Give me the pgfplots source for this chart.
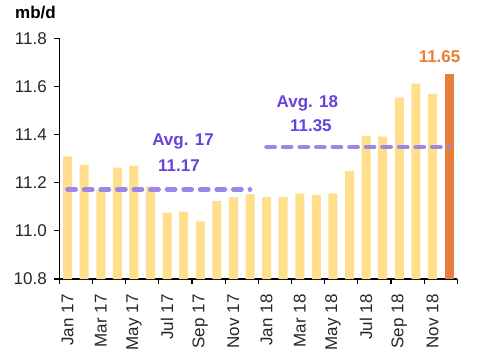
\documentclass[border=0pt]{standalone}
\usepackage{pgfplots}
\pgfplotsset{compat=1.18}
\usepackage{fontspec}
\setmainfont{Liberation Sans}
\definecolor{barY}{RGB}{255,222,140}
\definecolor{barO}{RGB}{232,125,62}
\definecolor{avgL}{RGB}{155,135,230}
\definecolor{avgT}{RGB}{105,65,225}
\definecolor{numO}{RGB}{237,125,49}
\begin{document}
\begin{tikzpicture}
\begin{axis}[
  scale only axis, width=398bp, height=240.7bp,
  xmin=-0.5, xmax=23.5, ymin=10.8, ymax=11.8,
  axis x line*=bottom, axis y line*=left,
  axis line style={-, line width=1.2bp, black},
  clip=false,
  font=\fontsize{17bp}{20bp}\selectfont,
  /pgf/number format/assume math mode=true,
  ytick={10.8,11,11.2,11.4,11.6,11.8},
  yticklabel style={/pgf/number format/fixed, /pgf/number format/fixed zerofill, /pgf/number format/precision=1, color=black!85, xshift=-4bp},
  tick align=outside,
  major tick length=5bp, minor tick length=5bp,
  tick style={line width=1.2bp, black},
  xtick={0,2,...,22},
  xticklabels={Jan 17,Mar 17,May 17,Jul 17,Sep 17,Nov 17,Jan 18,Mar 18,May 18,Jul 18,Sep 18,Nov 18},
  x tick style={draw=none},
  minor xtick={-0.5,1.5,...,23.5},
  minor x tick style={draw=black, line width=1.2bp},
  xticklabel shift=7bp,
  x tick label style={rotate=90, anchor=east, color=black!85},
]
\addplot[ybar, bar width=9bp, fill=barY, draw=none] coordinates {
(0,11.309) (1,11.274) (2,11.168) (3,11.263) (4,11.271) (5,11.184)
(6,11.076) (7,11.080) (8,11.039) (9,11.125) (10,11.140) (11,11.153)
(12,11.140) (13,11.141) (14,11.155) (15,11.150) (16,11.155) (17,11.249)
(18,11.395) (19,11.392) (20,11.554) (21,11.612) (22,11.569)};
\addplot[ybar, bar width=9bp, fill=barO, draw=none] coordinates {(23,11.65)};
\addplot[avgL, line width=4.8bp, dash pattern=on 8bp off 8.58bp, line cap=round] coordinates {(0,11.172) (11,11.172)};
\addplot[avgL, line width=4.8bp, dash pattern=on 8bp off 8.58bp, line cap=round] coordinates {(12,11.348) (23,11.348)};
\node[anchor=base, text=avgT, font=\fontsize{17bp}{20bp}\selectfont\bfseries] at (axis cs:6.96,11.353) {Avg. 17};
\node[anchor=base, text=avgT, font=\fontsize{17bp}{20bp}\selectfont\bfseries] at (axis cs:6.72,11.246) {11.17};
\node[anchor=base, text=avgT, font=\fontsize{17bp}{20bp}\selectfont\bfseries] at (axis cs:14.46,11.513) {Avg. 18};
\node[anchor=base, text=avgT, font=\fontsize{17bp}{20bp}\selectfont\bfseries] at (axis cs:14.67,11.412) {11.35};
\node[anchor=base, text=numO, font=\fontsize{17bp}{20bp}\selectfont\bfseries] at (axis cs:22.43,11.70) {11.65};
\node[anchor=base west, inner sep=0pt, font=\fontsize{17bp}{20bp}\selectfont\bfseries] at (rel axis cs:0,1) [xshift=-44.3bp, yshift=19.3bp] {mb/d};
\end{axis}
\pgfresetboundingbox
\path[use as bounding box] (current axis.south west) ++(-59.3bp,-71bp) rectangle ++(480bp,350bp);
\end{tikzpicture}
\end{document}
